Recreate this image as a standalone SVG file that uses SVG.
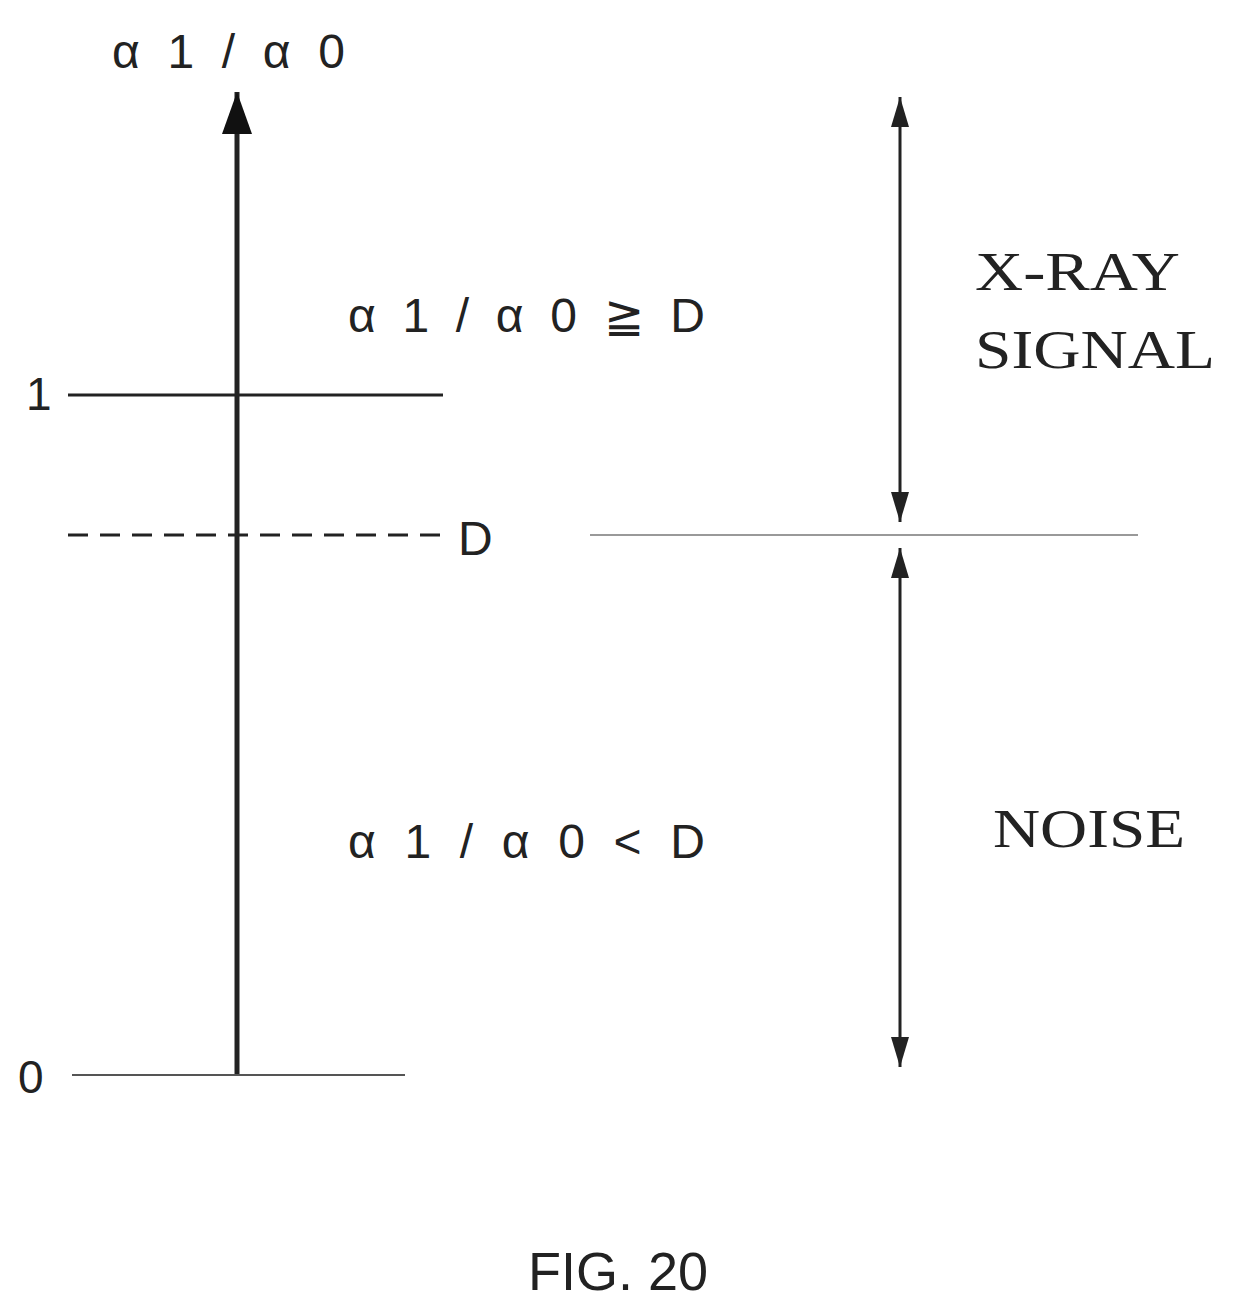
<svg xmlns="http://www.w3.org/2000/svg" width="1239" height="1310" viewBox="0 0 1239 1310">
<style>
.s{font-family:"Liberation Sans",Arial,sans-serif;fill:#222}
.r{font-family:"Liberation Serif","Times New Roman",serif;fill:#222}
</style>
<defs>
<marker id="big" viewBox="0 0 10 10" refX="10" refY="5" markerWidth="42" markerHeight="30" markerUnits="userSpaceOnUse" orient="auto" preserveAspectRatio="none"><path d="M0,0 L10,5 L0,10 z" fill="#111"/></marker>
<marker id="sm" viewBox="0 0 10 10" refX="10" refY="5" markerWidth="30" markerHeight="18" markerUnits="userSpaceOnUse" orient="auto-start-reverse" preserveAspectRatio="none"><path d="M0,0 L10,5 L0,10 z" fill="#222"/></marker>
</defs>
<rect width="1239" height="1310" fill="#fff"/>
<g id="connectors">
<line x1="237" y1="1075" x2="237" y2="92" stroke="#222" stroke-width="5" marker-end="url(#big)"/>
<line x1="68" y1="395" x2="443" y2="395" stroke="#222" stroke-width="3"/>
<line x1="68" y1="535" x2="440" y2="535" stroke="#222" stroke-width="3" stroke-dasharray="20,12"/>
<line x1="72" y1="1075" x2="405" y2="1075" stroke="#555" stroke-width="2"/>
<line x1="590" y1="535" x2="1138" y2="535" stroke="#777" stroke-width="1.5"/>
<line x1="900" y1="97" x2="900" y2="522" stroke="#222" stroke-width="3" marker-start="url(#sm)" marker-end="url(#sm)"/>
<line x1="900" y1="548" x2="900" y2="1067" stroke="#222" stroke-width="3" marker-start="url(#sm)" marker-end="url(#sm)"/>
</g>
<g id="labels">
<text class="s" x="112" y="68" font-size="48" textLength="233" lengthAdjust="spacing">α1/α0</text>
<text class="s" x="348" y="332" font-size="48" textLength="357" lengthAdjust="spacing">α1/α0≧D</text>
<text class="s" x="348" y="858" font-size="48" textLength="357" lengthAdjust="spacing">α1/α0&lt;D</text>
<text class="s" x="26" y="410" font-size="46">1</text>
<text class="s" x="18" y="1093" font-size="46">0</text>
<text class="s" x="458" y="555" font-size="48">D</text>
<text class="r" x="975" y="290" font-size="54" textLength="205" lengthAdjust="spacingAndGlyphs">X-RAY</text>
<text class="r" x="975" y="368" font-size="54" textLength="240" lengthAdjust="spacingAndGlyphs">SIGNAL</text>
<text class="r" x="993" y="847" font-size="54" textLength="192" lengthAdjust="spacingAndGlyphs">NOISE</text>
<text class="s" x="618" y="1290" font-size="54" text-anchor="middle">FIG. 20</text>
</g>
</svg>
